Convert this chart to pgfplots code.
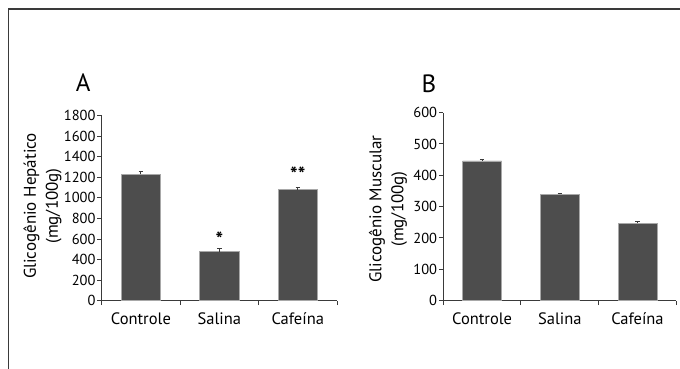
\documentclass[border=0pt]{standalone}
\usepackage{fontspec}
\setmainfont{PT Sans}
\usepackage{pgfplots}
\pgfplotsset{compat=1.18}
\definecolor{barfill}{HTML}{4D4D4D}
\definecolor{baredge}{HTML}{A8A8A8}
\definecolor{axcol}{HTML}{3A3A3A}
\pgfplotsset{
  panel/.style={
    scale only axis,
    anchor=south west,
    ybar=0pt, bar width=0.5,
    xmin=-0.5, xmax=2.5, ymin=0,
    axis x line*=bottom, axis y line*=left,
    axis line style={axcol, line width=1.2pt, -},
    xtick={0,1,2}, xticklabels={Controle,Salina,Cafeína},
    minor xtick={-0.5,0.5,1.5,2.5},
    tick align=outside,
    major tick length=4.5pt, minor tick length=4.5pt,
    major x tick style={draw=none},
    minor x tick style={axcol, line width=1pt},
    major y tick style={axcol, line width=1pt},
    xticklabel style={font=\fontsize{16.5}{18}\selectfont, inner sep=0pt, anchor=north, yshift=-7pt},
    yticklabel style={font=\fontsize{14.5}{16}\selectfont, inner sep=0pt, anchor=east, xshift=-1.5pt},
    /pgf/number format/assume math mode=true,
    /pgf/number format/1000 sep={},
    clip=false,
  },
  bars/.style={fill=barfill, draw=baredge, line width=0.6pt,
    error bars/.cd, y dir=plus, y explicit,
    error bar style={axcol, line width=1pt},
    error mark=-,
    error mark options={axcol, mark size=2.2pt, line width=0.9pt, rotate=90}},
}
\begin{document}
\begin{tikzpicture}[x=1pt,y=1pt]
\useasboundingbox (0,0) rectangle (680,369);
\draw[axcol, line width=1.5pt] (8.5,0) -- (8.5,360) -- (680,360);
% Panel A
\begin{axis}[panel, at={(101.7pt,68.3pt)}, width=235.3pt, height=185pt,
  ymax=1800, ytick={0,200,...,1800}]
\addplot[bars] coordinates {(0,1230) +- (0,28) (1,477) +- (0,29) (2,1081) +- (0,22)};
\node[font=\fontsize{20}{22}\selectfont\bfseries, anchor=base] at (axis cs:1,530) {*};
\node[font=\fontsize{20}{22}\selectfont\bfseries, anchor=base] at (axis cs:2,1155) {**};
\end{axis}
\node[font=\fontsize{25}{30}\selectfont] at (83.3,286) {A};
\node[rotate=90, align=center, font=\fontsize{17}{22}\selectfont] at (42.5,163) {Glicogênio Hepático\\(mg/100g)};
% Panel B
\begin{axis}[panel, at={(443.3pt,68.4pt)}, width=233pt, height=188pt,
  ymax=600, ytick={0,100,...,600}]
\addplot[bars] coordinates {(0,446) +- (0,5) (1,340) +- (0,2) (2,247) +- (0,5)};
\end{axis}
\node[font=\fontsize{25}{30}\selectfont] at (429,285) {B};
\node[rotate=90, align=center, font=\fontsize{17}{22}\selectfont] at (388,160) {Glicogênio Muscular\\(mg/100g)};
\end{tikzpicture}
\end{document}
